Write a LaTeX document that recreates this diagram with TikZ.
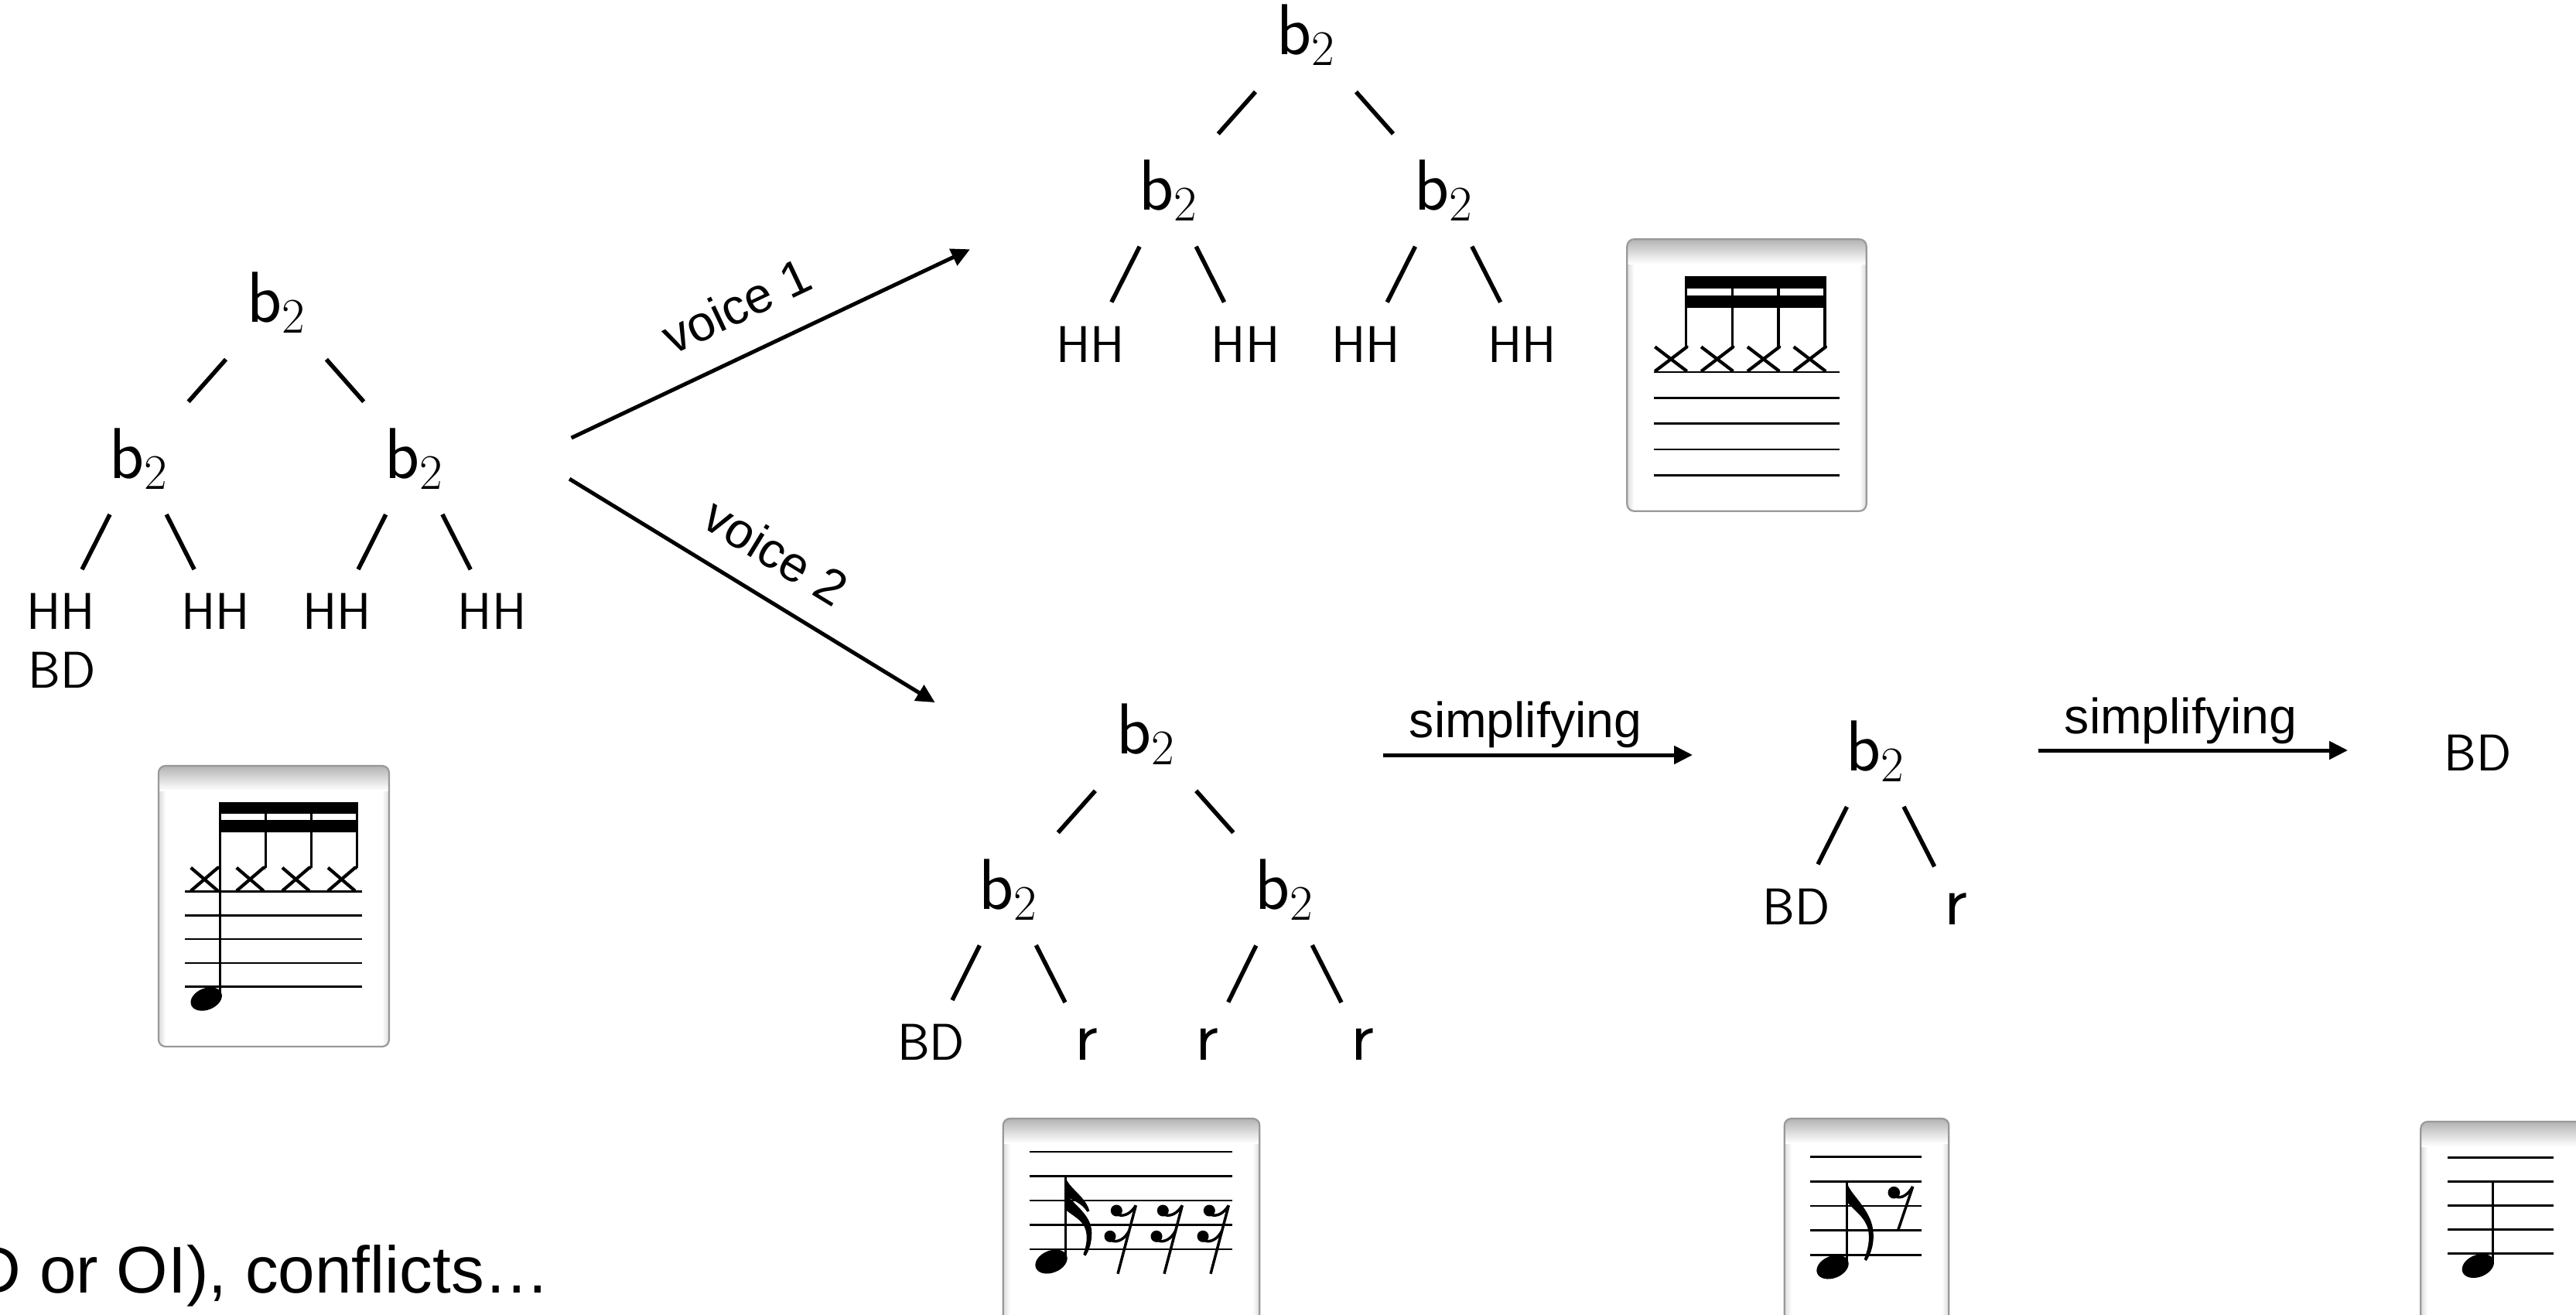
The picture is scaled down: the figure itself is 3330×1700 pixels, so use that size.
\documentclass[tikz,border=0pt]{standalone}
\usepackage{fontspec}
\newfontfamily\helv{Liberation Sans}
\usetikzlibrary{arrows.meta}

% tree label b with subscript 2
\newcommand\btwo{\textsf{b}\raisebox{-4pt}{\fontsize{18.3}{20}\selectfont 2}}

\tikzset{
  bnode/.style={inner sep=0, anchor=base, font=\fontsize{26.5}{30}\selectfont},
  leaf/.style={inner sep=0, anchor=base, font=\sffamily\fontsize{19}{22}\selectfont},
  restleaf/.style={inner sep=0, anchor=base, font=\sffamily\fontsize{26.5}{30}\selectfont},
  toplink/.style={line width=0.055cm, shorten <=0.98cm, shorten >=0.98cm},
  leaflink/.style={line width=0.055cm, shorten <=0.81cm, shorten >=0.61cm},
  flow/.style={line width=0.05cm, -{Triangle[length=0.24cm, width=0.23cm]}},
  flowlabel/.style={inner sep=0, font=\helv\fontsize{18.3}{22}\selectfont},
  staffline/.style={line width=0.027cm},
  stemline/.style={line width=0.033cm},
  xstroke/.style={line width=0.042cm, line join=round},
  reststroke/.style={line width=0.035cm},
  boxedge/.style={draw=black!40, line width=0.022cm, rounded corners=0.09cm},
}

% framed score card: x1, y1, x2, y2
\newcommand\scorebox[4]{%
  \begin{scope}
    \clip[rounded corners=0.09cm] (#1,#2) rectangle (#3,#4);
    \fill[white] (#1,#2) rectangle (#3,#4);
    \shade[left color=black!14, right color=white] (#1,{#2+30}) rectangle ({#1+9},#4);
    \shade[left color=white, right color=black!14] ({#3-9},{#2+30}) rectangle (#3,#4);
    \shade[top color=black!30, bottom color=white] (#1,#2) rectangle (#3,{#2+32});
  \end{scope}
  \path[boxedge] (#1,#2) rectangle (#3,#4);}

% five staff lines: x1, x2, top line y, spacing
\newcommand\fivelines[4]{%
  \foreach \k in {0,...,4}{\draw[staffline] (#1,{#3+\k*#4}) -- (#2,{#3+\k*#4});}}

% filled notehead: cx, cy, half axes
\newcommand\notehead[4]{%
  \fill[rotate around={22:(#1,#2)}] (#1,#2) ellipse (#3 and #4);}

% cross notehead: cx, cy, half width, half height, stem x
\newcommand\xhead[5]{%
  \draw[xstroke] ({#1-#3},{#2-#4}) -- ({#1+#3},{#2+#4});
  \draw[xstroke] ({#1-#3},{#2+#4}) -- ({#1+#3},{#2-#4}) -- ({#5},{#2-#4});}

% flags hanging from a stem top
\newcommand\eighthflag[2]{%
  \fill (#1,#2) .. controls ({#1+4},{#2+16}) and ({#1+33},{#2+35}) .. ({#1+34},{#2+66})
    .. controls ({#1+35},{#2+82}) and ({#1+29},{#2+95}) .. ({#1+25},{#2+101})
    -- ({#1+22},{#2+99})
    .. controls ({#1+27},{#2+86}) and ({#1+30},{#2+73}) .. ({#1+27},{#2+60})
    .. controls ({#1+23},{#2+44}) and ({#1+9},{#2+36}) .. (#1,{#2+25}) -- cycle;}
\newcommand\sixteenthflag[2]{%
  \fill (#1,#2) .. controls ({#1+4},{#2+14}) and ({#1+27},{#2+26}) .. ({#1+31},{#2+44})
    -- ({#1+28},{#2+45}) .. controls ({#1+22},{#2+34}) and ({#1+9},{#2+30}) .. (#1,{#2+24}) -- cycle;
  \fill (#1,{#2+18}) .. controls ({#1+4},{#2+32}) and ({#1+34},{#2+46}) .. ({#1+34},{#2+72})
    .. controls ({#1+34},{#2+86}) and ({#1+30},{#2+96}) .. ({#1+26},{#2+102})
    -- ({#1+23},{#2+100}) .. controls ({#1+27},{#2+89}) and ({#1+29},{#2+78}) .. ({#1+26},{#2+68})
    .. controls ({#1+22},{#2+55}) and ({#1+9},{#2+50}) .. (#1,{#2+42}) -- cycle;}

% rests, given the top of their slanted stem
\newcommand\sixteenthrest[2]{%
  \draw[reststroke] (#1,#2) -- ({#1-23.3},{#2+88.4});
  \fill ({#1-25},{#2+6.7}) circle (0.075cm);
  \fill ({#1-33.3},{#2+40}) circle (0.075cm);
  \draw[reststroke] ({#1-23},{#2+12}) .. controls ({#1-15},{#2+15}) and ({#1-6},{#2+10}) .. (#1,#2);
  \draw[reststroke] ({#1-31},{#2+45.5}) .. controls ({#1-23},{#2+48.5}) and ({#1-14},{#2+43}) .. ({#1-8.6},{#2+32.7});}
\newcommand\eighthrest[2]{%
  \draw[reststroke] (#1,#2) -- ({#1-18.7},{#2+55.3});
  \fill ({#1-24.4},{#2+7.7}) circle (0.078cm);
  \draw[reststroke] ({#1-22},{#2+13}) .. controls ({#1-14},{#2+16}) and ({#1-6},{#2+10}) .. (#1,#2);}

\begin{document}
\begin{tikzpicture}[x=0.01cm, y=-0.01cm]
\useasboundingbox (0,0) rectangle (3330,1700);

% ---------- full pattern tree ----------
\node[bnode] (L0) at (357,416.4) {\btwo};
\node[bnode] (L1) at (178.6,618.1) {\btwo};
\node[bnode] (L2) at (535.1,618.1) {\btwo};
\node[leaf] (L3) at (78.5,813.8) {HH};
\node[leaf] (L3b) at (79.9,889) {BD};
\node[leaf] (L4) at (278.7,813.8) {HH};
\node[leaf] (L5) at (435.7,813.8) {HH};
\node[leaf] (L6) at (636,813.8) {HH};
\draw[toplink] (L0.center) -- (L1.center);
\draw[toplink] (L0.center) -- (L2.center);
\draw[leaflink] (L1.center) -- (L3.center);
\draw[leaflink] (L1.center) -- (L4.center);
\draw[leaflink] (L2.center) -- (L5.center);
\draw[leaflink] (L2.center) -- (L6.center);

% ---------- voice 1 tree ----------
\node[bnode] (T0) at (1688,70.7) {\btwo};
\node[bnode] (T1) at (1509.7,271.7) {\btwo};
\node[bnode] (T2) at (1866,271.7) {\btwo};
\node[leaf] (T3) at (1409.3,468.3) {HH};
\node[leaf] (T4) at (1610,468.3) {HH};
\node[leaf] (T5) at (1765.7,468.3) {HH};
\node[leaf] (T6) at (1967.3,468.3) {HH};
\draw[toplink] (T0.center) -- (T1.center);
\draw[toplink] (T0.center) -- (T2.center);
\draw[leaflink] (T1.center) -- (T3.center);
\draw[leaflink] (T1.center) -- (T4.center);
\draw[leaflink] (T2.center) -- (T5.center);
\draw[leaflink] (T2.center) -- (T6.center);

% ---------- voice 2 tree ----------
\node[bnode] (B0) at (1481,974.3) {\btwo};
\node[bnode] (B1) at (1302.6,1175) {\btwo};
\node[bnode] (B2) at (1659.5,1175) {\btwo};
\node[leaf] (B3) at (1203.7,1370.7) {BD};
\node[restleaf] (B4) at (1404.6,1370.7) {r};
\node[restleaf] (B5) at (1560.8,1370.7) {r};
\node[restleaf] (B6) at (1761.7,1370.7) {r};
\draw[toplink] (B0.center) -- (B1.center);
\draw[toplink] (B0.center) -- (B2.center);
\draw[leaflink] (B1.center) -- (B3.center);
\draw[leaflink] (B1.center) -- (B4.center);
\draw[leaflink] (B2.center) -- (B5.center);
\draw[leaflink] (B2.center) -- (B6.center);

% ---------- simplified trees ----------
\node[bnode] (M0) at (2424,996) {\btwo};
\node[leaf] (M1) at (2322.5,1195) {BD};
\node[restleaf] (M2) at (2528.5,1195) {r};
\draw[leaflink] (M0.center) -- (M1.center);
\draw[leaflink] (M0.center) -- (M2.center);
\node[leaf] (F0) at (3203.5,996) {BD};

% ---------- transformation arrows ----------
\coordinate (v1a) at (738.6,566.1);
\coordinate (v1b) at (1253.9,322.3);
\coordinate (v2a) at (736.1,619.1);
\coordinate (v2b) at (1208.6,908.1);
\coordinate (s1a) at (1788,976);
\coordinate (s1b) at (2188,976);
\coordinate (s2a) at (2635,970);
\coordinate (s2b) at (3035,970);
\draw[flow] (v1a) -- node[flowlabel, pos=0.466, sloped, above=0.37cm] (v1t) {voice 1} (v1b);
\draw[flow] (v2a) -- node[flowlabel, pos=0.5, sloped, above=0.33cm] (v2t) {voice 2} (v2b);
\draw[flow] (s1a) -- node[flowlabel, pos=0.46, anchor=base, yshift=0.22cm] (s1t) {simplifying} (s1b);
\draw[flow] (s2a) -- node[flowlabel, pos=0.46, anchor=base, yshift=0.217cm] (s2t) {simplifying} (s2b);

% ---------- caption fragment ----------
\node[anchor=base east, inner sep=0, font=\helv\fontsize{24.3}{28}\selectfont] (note) at (712,1671) {D or OI), conflicts…};

% ---------- score: full pattern ----------
\scorebox{205}{990}{503}{1353}
\fivelines{239}{468}{1152.5}{30.8}
\foreach \i in {0,...,3}{%
  \pgfmathsetmacro\cx{264.2+59.1*\i}
  \xhead{\cx}{1136.7}{17.5}{15}{\cx+20}}
\foreach \i in {1,2,3}{\draw[stemline] ({284.2+59.1*\i},1121.7) -- ({284.2+59.1*\i},1037);}
\draw[stemline] (284.2,1288) -- (284.2,1037);
\fill (282.5,1036.7) rectangle (463.2,1051.7);
\fill (282.5,1060) rectangle (463.2,1075.7);
\notehead{266.7}{1291.5}{0.21cm}{0.14cm}

% ---------- score: voice 1 ----------
\scorebox{2103.3}{309.3}{2412.7}{660.7}
\fivelines{2138.3}{2378.3}{481}{33.3}
\foreach \i in {0,...,3}{%
  \pgfmathsetmacro\cx{2160+59.8*\i}
  \xhead{\cx}{464.2}{20.7}{15.8}{\cx+19.5}
  \draw[stemline] ({\cx+19.5},449) -- ({\cx+19.5},358);}
\fill (2177.8,357.3) rectangle (2360.6,372.7);
\fill (2177.8,381.7) rectangle (2360.6,398.3);

% ---------- score: voice 2 ----------
\scorebox{1296.7}{1446}{1628.3}{1720}
\fivelines{1330.7}{1593.3}{1489}{31.5}
\notehead{1359}{1631}{0.215cm}{0.143cm}
\draw[stemline] (1377.3,1628) -- (1377.3,1521.7);
\sixteenthflag{1377.3}{1521.7}
\foreach \d in {0,60,120}{\sixteenthrest{1468.3+\d}{1558.3}}

% ---------- score: first simplification ----------
\scorebox{2306.7}{1446}{2519.3}{1720}
\fivelines{2340}{2484.3}{1495.7}{31.65}
\notehead{2369}{1638}{0.215cm}{0.143cm}
\draw[stemline] (2387.7,1635) -- (2387.7,1529);
\eighthflag{2387.7}{1529}
\eighthrest{2472.7}{1534}

% ---------- score: second simplification ----------
\scorebox{3129.3}{1450}{3342}{1720}
\fivelines{3164}{3301}{1496.7}{31}
\notehead{3203.3}{1636.5}{0.215cm}{0.143cm}
\draw[stemline] (3222.7,1633) -- (3222.7,1527.5);
\end{tikzpicture}
\end{document}
